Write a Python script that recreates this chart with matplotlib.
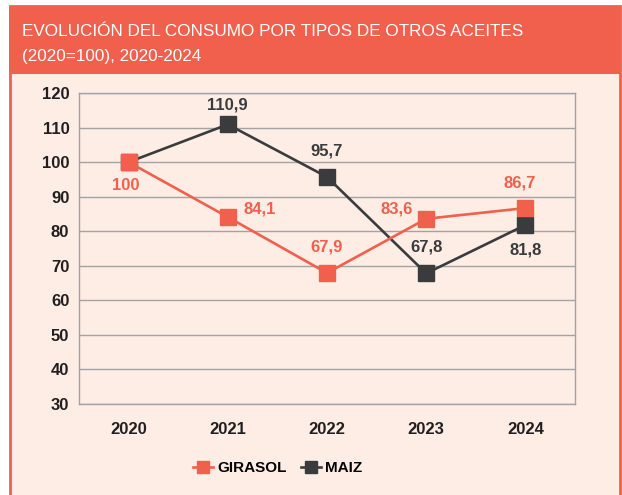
import matplotlib.pyplot as plt
import matplotlib.patches as mpatches
from matplotlib import font_manager

# datos
years = ["2020", "2021", "2022", "2023", "2024"]
girasol = [100, 84.1, 67.9, 83.6, 86.7]
maiz = [100, 110.9, 95.7, 67.8, 81.8]
girasol_labels = ["100", "84,1", "67,9", "83,6", "86,7"]
maiz_labels = ["", "110,9", "95,7", "67,8", "81,8"]

red = "#F0604D"
dark = "#3A3B3D"
bg = "#FDEDE5"

names = {f.name for f in font_manager.fontManager.ttflist}
narrow = "Liberation Sans Narrow" if "Liberation Sans Narrow" in names else "Liberation Sans"
plt.rcParams['font.family'] = ["Liberation Sans", "DejaVu Sans"]

fig = plt.figure(figsize=(6.22, 4.95), dpi=100)
W, H = 622, 495

# marco y cabecera
fig.patches.append(mpatches.Rectangle((10 / W, -0.05), 610 / W, 1.05 - 6 / H, transform=fig.transFigure,
                                      facecolor=bg, edgecolor=red, linewidth=2, zorder=0))
fig.patches.append(mpatches.Rectangle((9 / W, 1 - 74 / H), 612 / W, 68 / H, transform=fig.transFigure,
                                      facecolor=red, edgecolor="none", zorder=1))
fig.text(22 / W, 1 - 32 / H, "EVOLUCIÓN DEL CONSUMO POR TIPOS DE OTROS ACEITES",
         color="white", fontsize=12.3, family=[narrow, "DejaVu Sans"], va="center")
fig.text(22 / W, 1 - 57 / H, "(2020=100), 2020-2024",
         color="white", fontsize=12.3, family=[narrow, "DejaVu Sans"], va="center")

ax = fig.add_axes([79 / W, 1 - 404 / H, 496 / W, 311 / H])
ax.set_zorder(2)
ax.set_facecolor("none")
x = range(len(years))
ax.plot(x, maiz, color=dark, lw=1.9, marker="s", ms=11, label="MAIZ", zorder=3)
ax.plot(x, girasol, color=red, lw=1.9, marker="s", ms=11, label="GIRASOL", zorder=4)

g_off = [(-2, -17), (23, 6), (0, 19), (-21, 7), (-4, 18)]
m_off = [(0, 0), (0, 14), (0, 19), (0, 19), (0, -18)]
for i in x:
    ax.annotate(girasol_labels[i], (i, girasol[i]), xytext=g_off[i], textcoords="offset points",
                ha="center", va="center", color=red, fontsize=12, fontweight="bold")
    if maiz_labels[i]:
        ax.annotate(maiz_labels[i], (i, maiz[i]), xytext=m_off[i], textcoords="offset points",
                    ha="center", va="center", color=dark, fontsize=12, fontweight="bold")

ax.set_xlim(-0.5, 4.5)
ax.set_ylim(30, 120)
ax.set_yticks(range(30, 121, 10))
ax.set_xticks(list(x))
ax.set_xticklabels(years)
ax.grid(axis="y", color="#A3A3A3", lw=1)
ax.set_axisbelow(True)
for s in ax.spines.values():
    s.set_color("#A3A3A3")
    s.set_linewidth(1)
ax.tick_params(length=0, labelsize=12, colors="#231F20", pad=7)
ax.tick_params(axis="x", pad=13)
for t in ax.get_xticklabels() + ax.get_yticklabels():
    t.set_fontweight("bold")

h, l = ax.get_legend_handles_labels()
leg = fig.legend(h[::-1], l[::-1], loc="center", bbox_to_anchor=(278 / W, 1 - 468 / H), ncol=2,
                 frameon=False, handlelength=1.3, columnspacing=0.9, handletextpad=0.3,
                 markerscale=0.8,
                 prop={"family": [narrow, "DejaVu Sans"], "weight": "bold", "size": 11})
leg.set_zorder(3)

fig.savefig("out.png", dpi=100)
